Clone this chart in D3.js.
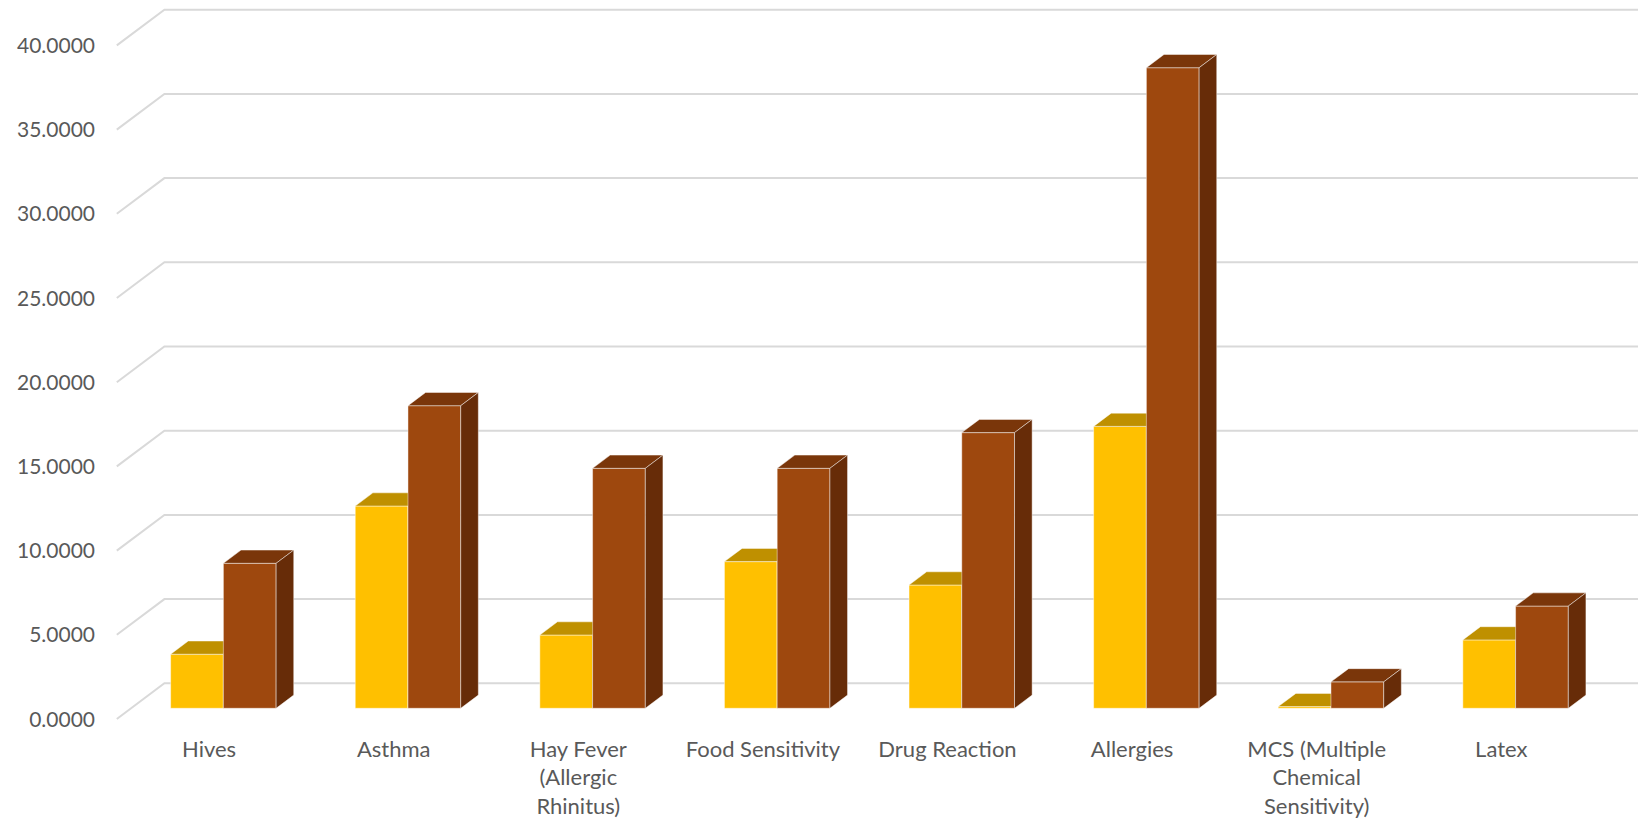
<!DOCTYPE html>
<html>
<head>
<meta charset="utf-8">
<script src="https://cdn.jsdelivr.net/npm/d3@7"></script>
<style>
  html, body { margin: 0; padding: 0; background: #fff; }
  svg { display: block; }
  text { font-family: Lato, "Open Sans", sans-serif; fill: #595959; }
</style>
</head>
<body>
<svg id="chart" width="1638" height="819"></svg>
<script>
// ---- data ----
const categories = [
  "Hives",
  "Asthma",
  "Hay Fever\n(Allergic\nRhinitus)",
  "Food Sensitivity",
  "Drug Reaction",
  "Allergies",
  "MCS (Multiple\nChemical\nSensitivity)",
  "Latex"
];
const seriesA = [3.21, 12.01, 4.35, 8.71, 7.32, 16.74, 0.10, 4.06];
const seriesB = [8.61, 17.97, 14.25, 14.25, 16.37, 38.04, 1.57, 6.07];
const yTicks = [0, 5, 10, 15, 20, 25, 30, 35, 40];
const seriesNames = ["seriesA", "seriesB"];

// ---- layout ----
const W = 1638, H = 819;
const frontLeft = 116.8, frontRight = 1593.6;
const depthDX = 47.6, depthDY = 35.7;           // full floor depth offset
const barZ0 = 0.30, barZ1 = 0.67;               // bar depth span (fraction of floor depth)
const colors = {
  seriesA: { front: "#FFC000", top: "#BF9000", side: "#A67C00" },
  seriesB: { front: "#9E480E", top: "#7A360A", side: "#672C08" }
};

const svg = d3.select("#chart");

const x = d3.scaleBand().domain(categories).range([frontLeft, frontRight]).paddingInner(0).paddingOuter(0);
const xs = d3.scaleBand().domain(seriesNames).range([0, x.bandwidth()]).paddingInner(0).paddingOuter(0.75);
const y = d3.scaleLinear().domain([0, 40]).range([719, 45.4]);

// project (screen-x on front plane, value, depth fraction)
function P(px, v, z) { return [px + z * depthDX, y(v) - z * depthDY]; }

// ---- gridlines (side wall diagonal + back wall) ----
const grid = svg.append("g");
yTicks.forEach(t => {
  const a = P(frontLeft, t, 0), b = P(frontLeft, t, 1), c = P(frontRight, t, 1);
  grid.append("path")
    .attr("d", `M${a[0]},${a[1]}L${b[0]},${b[1]}L${c[0]},${c[1]}`)
    .attr("fill", "none").attr("stroke", "#D9D9D9").attr("stroke-width", 2);
});

// ---- y axis labels ----
svg.append("g").selectAll("text").data(yTicks).join("text")
  .attr("x", 95).attr("y", d => y(d)).attr("dy", "0.36em")
  .attr("text-anchor", "end").attr("font-size", 21)
  .text(d => d3.format(".4f")(d));

// ---- bars ----
const bars = svg.append("g");
categories.forEach((cat, i) => {
  [seriesA, seriesB].forEach((arr, s) => {
    const name = seriesNames[s];
    const v = arr[i];
    const x0 = x(cat) + xs(name), x1 = x0 + xs.bandwidth();
    const c = colors[name];
    const poly = pts => pts.map(p => p.join(",")).join(" ");
    // front face
    bars.append("polygon")
      .attr("points", poly([P(x0, 0, barZ0), P(x1, 0, barZ0), P(x1, v, barZ0), P(x0, v, barZ0)]))
      .attr("fill", c.front).attr("stroke", "rgba(255,255,255,0.45)").attr("stroke-width", 1);
    // top face
    bars.append("polygon")
      .attr("points", poly([P(x0, v, barZ0), P(x1, v, barZ0), P(x1, v, barZ1), P(x0, v, barZ1)]))
      .attr("fill", c.top).attr("stroke", "rgba(255,255,255,0.45)").attr("stroke-width", 1);
    // side face
    bars.append("polygon")
      .attr("points", poly([P(x1, 0, barZ0), P(x1, 0, barZ1), P(x1, v, barZ1), P(x1, v, barZ0)]))
      .attr("fill", c.side).attr("stroke", "rgba(255,255,255,0.45)").attr("stroke-width", 1);
  });
});

// ---- category labels ----
const labels = svg.append("g");
categories.forEach(cat => {
  const cx = x(cat) + x.bandwidth() / 2;
  const t = labels.append("text").attr("text-anchor", "middle").attr("font-size", 22);
  cat.split("\n").forEach((line, k) => {
    t.append("tspan").attr("x", cx).attr("y", 756.5 + k * 28.5).text(line);
  });
});
</script>
</body>
</html>
